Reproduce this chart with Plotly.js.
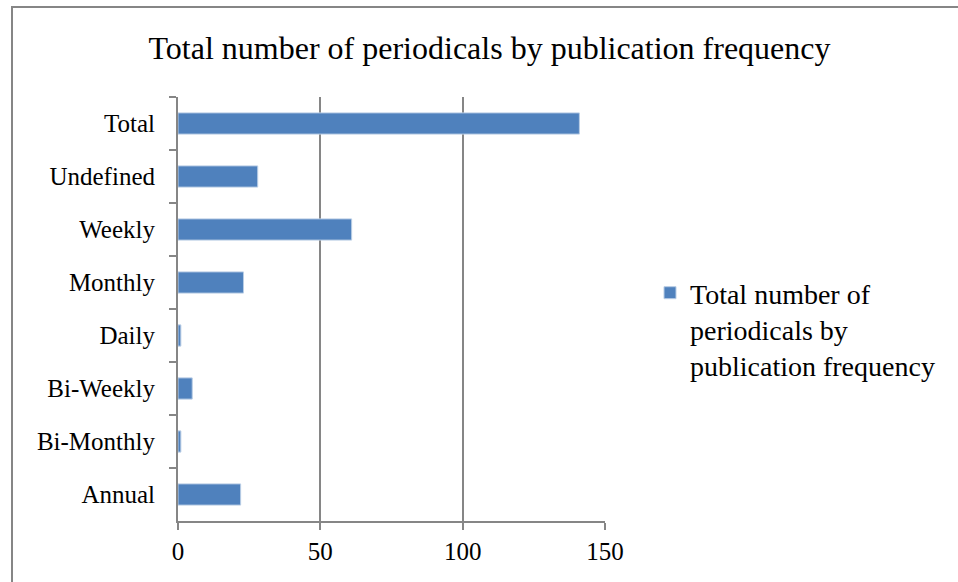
<!DOCTYPE html>
<html>
<head>
<meta charset="utf-8">
<script src="https://cdn.plot.ly/plotly-3.0.1.min.js"></script>
<style>html,body{margin:0;padding:0;background:#fff;}#chart{width:958px;height:582px;}</style>
</head>
<body>
<div id="chart"></div>
<script>
const categories = ["Total", "Undefined", "Weekly", "Monthly", "Daily", "Bi-Weekly", "Bi-Monthly", "Annual"];
const values = [141, 28, 61, 23, 1, 5, 1, 22];
const xTickValues = [0, 50, 100, 150];
const seriesName = "Total number of<br>periodicals by<br>publication frequency";
const chartTitle = "Total number of periodicals by publication frequency";

const serif = "'Liberation Serif', 'Times New Roman', serif";
const gray = "#868686";

const trace = {
  type: "bar",
  orientation: "h",
  y: categories,
  x: values,
  name: seriesName,
  marker: {color: "#4F81BD", line: {color: "#B9CDE5", width: 1}},
  width: 0.4,
  showlegend: true
};

const layout = {
  width: 958,
  height: 582,
  margin: {l: 178, r: 353, t: 97, b: 61},
  paper_bgcolor: "#ffffff",
  plot_bgcolor: "#ffffff",
  font: {family: serif, color: "#000000", size: 25},
  title: {
    text: chartTitle,
    font: {family: serif, size: 32, color: "#000000"},
    xref: "container", yref: "container",
    x: 0.511, xanchor: "center",
    y: 1 - 48 / 582, yanchor: "middle"
  },
  xaxis: {
    range: [0, 150],
    tickvals: xTickValues,
    ticktext: xTickValues.map(String),
    showgrid: true,
    gridcolor: gray,
    gridwidth: 2,
    zeroline: false,
    showline: true,
    linecolor: gray,
    linewidth: 2,
    ticks: "outside",
    ticklen: 7,
    tickwidth: 2,
    tickcolor: gray,
    tickfont: {family: serif, size: 25, color: "#000"},
    fixedrange: true
  },
  yaxis: {
    type: "category",
    categoryorder: "array",
    categoryarray: categories,
    autorange: "reversed",
    showgrid: false,
    zeroline: false,
    showline: true,
    linecolor: gray,
    linewidth: 2,
    ticks: "outside",
    tickson: "boundaries",
    ticklen: 7,
    tickwidth: 2,
    tickcolor: gray,
    ticklabelstandoff: 16,
    tickfont: {family: serif, size: 25, color: "#000"},
    fixedrange: true
  },
  legend: {
    x: (650 - 178) / 427,
    xanchor: "left",
    y: 1 - (268 - 97) / 424,
    yanchor: "top",
    valign: "top",
    font: {family: serif, size: 28, color: "#000"},
    bgcolor: "rgba(0,0,0,0)",
    tracegroupgap: 0
  },
  shapes: [{
    type: "rect",
    xref: "paper", yref: "paper",
    x0: (12 - 178) / 427, x1: 2.0,
    y0: -0.5, y1: 1 + (97 - 7) / 424,
    line: {color: gray, width: 2},
    fillcolor: "rgba(0,0,0,0)",
    layer: "below"
  }],
  bargap: 0.6
};

Plotly.newPlot("chart", [trace], layout, {displayModeBar: false, staticPlot: true});
</script>
</body>
</html>
